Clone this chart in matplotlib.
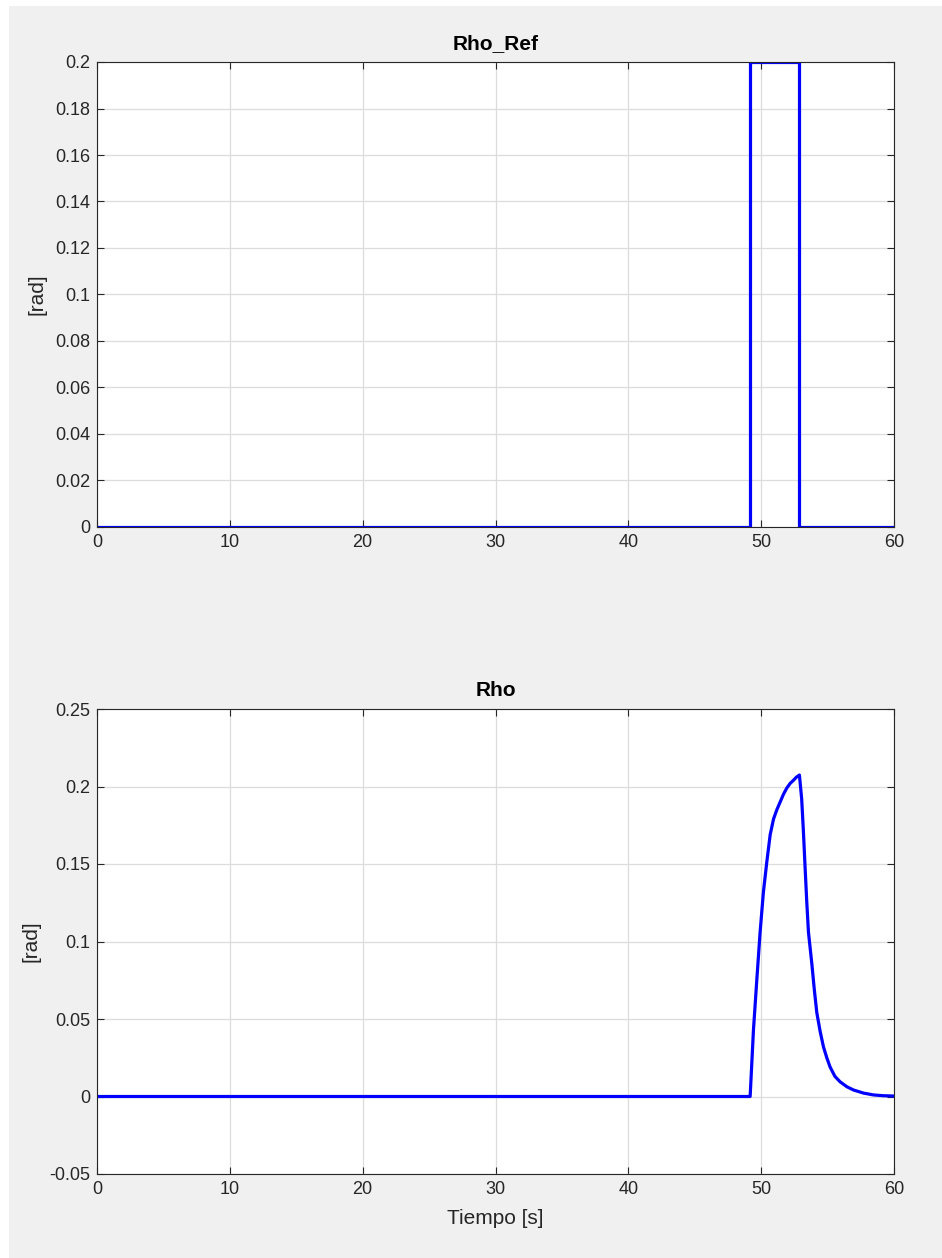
import matplotlib
matplotlib.use("Agg")
import matplotlib.pyplot as plt
from matplotlib.patches import Rectangle

# Referencia (pulso) de Rho
t_ref = [0, 49.17, 49.17, 52.86, 52.86, 60]
rho_ref = [0, 0, 0.2, 0.2, 0, 0]

# Respuesta de Rho
t_rho = [0, 49.17, 49.42, 49.67, 49.92, 50.17, 50.42, 50.68, 50.93, 51.18,
         51.43, 51.68, 51.93, 52.18, 52.43, 52.65, 52.88, 53.05, 53.18, 53.3,
         53.43, 53.56, 53.81, 54.0, 54.19, 54.44, 54.69, 54.94, 55.19, 55.55,
         55.94, 56.45, 56.95, 57.7, 58.46, 59.2, 60]
rho = [0, 0, 0.043, 0.075, 0.106, 0.132, 0.151, 0.169, 0.179, 0.185,
       0.190, 0.195, 0.199, 0.202, 0.204, 0.206, 0.2074, 0.192, 0.171, 0.149,
       0.126, 0.106, 0.086, 0.069, 0.054, 0.042, 0.032, 0.025, 0.019, 0.013,
       0.0095, 0.0063, 0.0042, 0.0022, 0.001, 0.0005, 0.0003]

x_ticks = list(range(0, 61, 10))
y_ticks_ref = [0, 0.02, 0.04, 0.06, 0.08, 0.1, 0.12, 0.14, 0.16, 0.18, 0.2]
y_labels_ref = ['0', '0.02', '0.04', '0.06', '0.08', '0.1', '0.12', '0.14', '0.16', '0.18', '0.2']
y_ticks_rho = [-0.05, 0, 0.05, 0.1, 0.15, 0.2, 0.25]
y_labels_rho = ['-0.05', '0', '0.05', '0.1', '0.15', '0.2', '0.25']

plt.rcParams['font.family'] = ['Liberation Sans', 'DejaVu Sans']
txt = '#262626'

W, H = 942, 1258
fig = plt.figure(figsize=(W / 100, H / 100), dpi=100, facecolor='#f0f0f0')
# franjas blancas arriba y a la izquierda
fig.patches.append(Rectangle((0, 0), 9 / W, 1, transform=fig.transFigure,
                             facecolor='white', edgecolor='none', zorder=-10))
fig.patches.append(Rectangle((0, 1 - 6 / H), 1, 6 / H, transform=fig.transFigure,
                             facecolor='white', edgecolor='none', zorder=-10))

left = 97 / W
width = (894 - 97) / W
ax1 = fig.add_axes([left, 1 - 527 / H, width, (527 - 62) / H])
ax2 = fig.add_axes([left, 1 - 1174 / H, width, (1174 - 709) / H])


def style(ax, yt, yl, title):
    ax.set_xlim(0, 60)
    ax.set_xticks(x_ticks)
    ax.set_yticks(yt)
    ax.set_yticklabels(yl)
    ax.set_ylim(yt[0], yt[-1])
    ax.grid(True, color='#dcdcdc', linewidth=0.9)
    ax.set_axisbelow(True)
    ax.tick_params(direction='in', length=5, width=0.8, colors='#262626',
                   labelsize=13, top=True, right=True, labelcolor=txt, pad=5)
    for s in ax.spines.values():
        s.set_color('#262626')
        s.set_linewidth(0.8)
    ax.set_title(title, fontsize=15, fontweight='bold', color='black', pad=9)
    ax.set_ylabel('[rad]', fontsize=15, color=txt, labelpad=6)


ax1.plot(t_ref, rho_ref, color='blue', linewidth=2.3)
style(ax1, y_ticks_ref, y_labels_ref, 'Rho_Ref')

ax2.plot(t_rho, rho, color='blue', linewidth=2.3)
style(ax2, y_ticks_rho, y_labels_rho, 'Rho')
ax2.set_xlabel('Tiempo [s]', fontsize=15, color=txt, labelpad=8)

fig.savefig('out.png', dpi=100, facecolor=fig.get_facecolor())
